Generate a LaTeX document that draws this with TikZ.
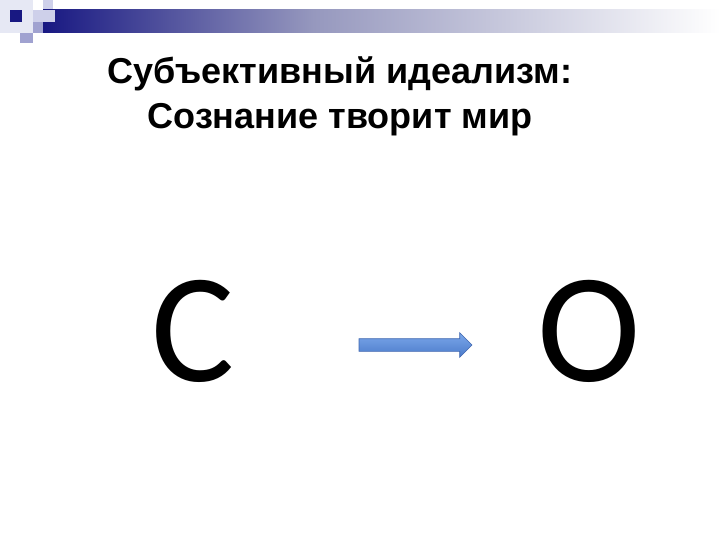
\documentclass[tikz,border=0pt]{standalone}
\usepackage{fontspec}
\setmainfont{Liberation Sans}
\newfontfamily\letterfont{Carlito}
\usetikzlibrary{shapes.arrows}
\definecolor{barnavy}{RGB}{24,24,130}
\definecolor{barmid}{RGB}{150,152,190}
\definecolor{sqpale}{RGB}{230,232,244}
\definecolor{sqlight}{RGB}{206,208,234}
\definecolor{sqmid}{RGB}{160,162,208}
\definecolor{arrowtop}{RGB}{124,168,234}
\definecolor{arrowbot}{RGB}{74,122,202}
\definecolor{arrowline}{RGB}{66,104,176}
\pgfdeclarehorizontalshading{barshade}{100bp}{color(0bp)=(barnavy); color(25bp)=(barnavy); color(45bp)=(barmid); color(75bp)=(white); color(100bp)=(white)}

\begin{document}
\begin{tikzpicture}[x=1pt, y=-1pt]
    \tikzstyle{title} = [align=center, font=\fontsize{36}{45}\selectfont\bfseries]
    \tikzstyle{letter} = [inner sep=0pt, font=\letterfont\fontsize{156}{156}\selectfont]
    \tikzstyle{arrowbody} = [single arrow, draw=arrowline, line width=0.6pt, top color=arrowtop, bottom color=arrowbot, minimum height=113pt, minimum width=24pt, single arrow head extend=6pt, single arrow head indent=0pt, single arrow tip angle=90, inner xsep=0pt, inner ysep=6pt]
    \useasboundingbox (0,0) rectangle (720,540);

    % Header decoration
    \fill[sqpale] (0,0) rectangle (33,33);
    \fill[sqlight] (43,0) rectangle (53,20);
    \shade[shading=barshade] (43,10) rectangle (720,33);
    \fill[sqlight] (33,10) rectangle (55,22);
    \fill[sqmid] (33,22) rectangle (43,33);
    \fill[sqmid] (20,33) rectangle (33,43);
    \fill[barnavy] (10,10) rectangle (22,22);

    % Title
    \node [title] (heading) at (340,96) {Субъективный идеализм:\\Сознание творит мир};

    % Subject and object
    \node [letter] (subject) at (193,331) {С};
    \node [letter] (object) at (589,331) {О};

    % Arrow between them
    \path (subject.center) -- (object.center) node [arrowbody, pos=0.554, yshift=-14pt] (link) {};
\end{tikzpicture}
\end{document}
